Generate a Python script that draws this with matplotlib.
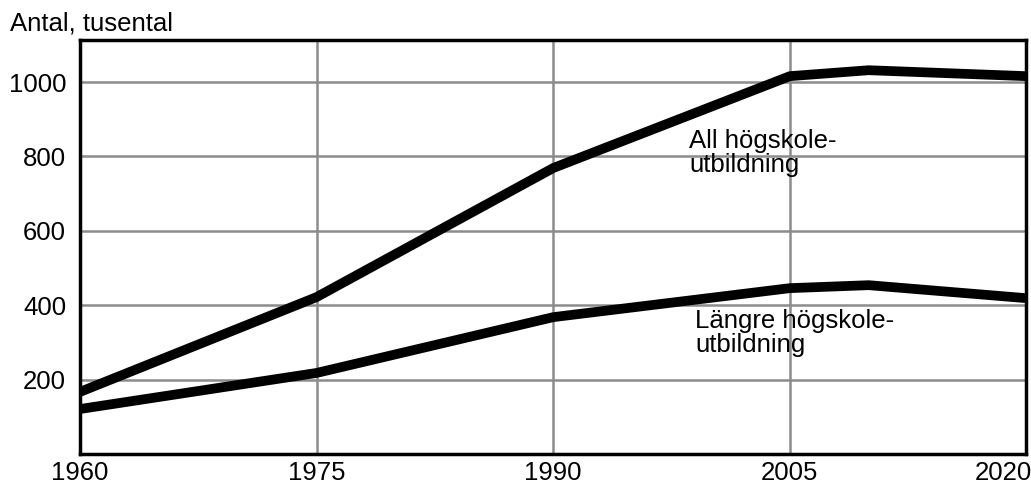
import matplotlib
matplotlib.use("Agg")
import matplotlib.pyplot as plt
from matplotlib.transforms import ScaledTranslation

plt.rcParams['font.family'] = ['Liberation Sans', 'DejaVu Sans']

years = [1960, 1975, 1990, 2005, 2010, 2020]
all_hogskola = [167, 422, 769, 1016, 1032, 1016]
langre_hogskola = [121, 218, 368, 446, 454, 419]

xticks = [1960, 1975, 1990, 2005, 2020]
yticks = [200, 400, 600, 800, 1000]

fig = plt.figure(figsize=(10.31, 4.83), dpi=100)
ax = fig.add_axes([0.0776, 0.060, 0.918, 0.857])

ax.plot(years, all_hogskola, color='black', lw=7, solid_capstyle='butt')
ax.plot(years, langre_hogskola, color='black', lw=7, solid_capstyle='butt')

ax.set_xlim(1960, 2020)
ax.set_ylim(0, 1113)
ax.set_xticks(xticks)
ax.set_yticks(yticks)
ax.tick_params(length=0, labelsize=18.5)
ax.tick_params(axis='y', pad=10)
ax.tick_params(axis='x', pad=5)
ax.grid(True, color='#8c8c8c', lw=1.8)
ax.set_axisbelow(True)
for s in ax.spines.values():
    s.set_linewidth(2.5)
    s.set_color('black')

# last year label sits inside the figure
last = ax.get_xticklabels()[-1]
last.set_ha('right')
last.set_transform(last.get_transform() + ScaledTranslation(6 / 100, 0, fig.dpi_scale_trans))

ax.text(1998.6, 873, "All högskole-\nutbildning", fontsize=18.5, va='top',
        ha='left', linespacing=1.0)
ax.text(1999.0, 389, "Längre högskole-\nutbildning", fontsize=18.5, va='top',
        ha='left', linespacing=1.0)

fig.text(0.010, 1 - 12 / 483, "Antal, tusental", fontsize=18.5, va='top', ha='left')

fig.savefig("out.png", dpi=100)
